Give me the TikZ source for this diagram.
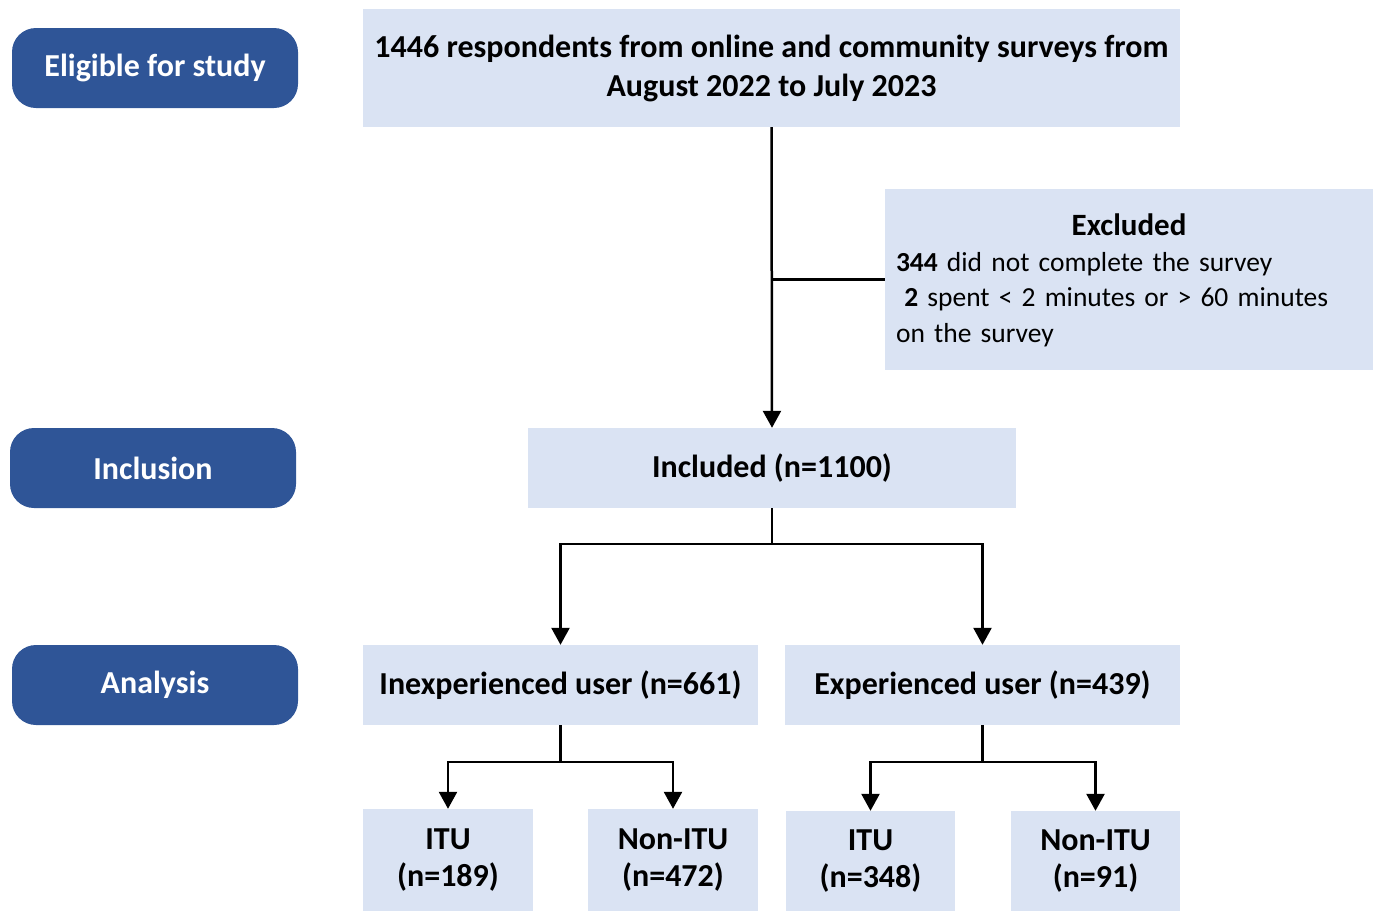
\documentclass[tikz,border=0pt]{standalone}
\usepackage{fontspec}
\setmainfont{Carlito}
\usetikzlibrary{arrows.meta,calc}
\definecolor{darkb}{HTML}{2F5597}
\definecolor{lightb}{HTML}{DAE3F3}
\tikzset{
  lbl/.style={fill=darkb, draw=none, rounded corners=24pt, text=white, font=\fontsize{32}{38}\selectfont\bfseries, minimum width=286pt, minimum height=80pt, inner sep=0pt},
  bx/.style={fill=lightb, draw=none, inner sep=0pt, font=\fontsize{32}{39}\selectfont\bfseries, align=center},
  small/.style={font=\fontsize{32}{37.5}\selectfont\bfseries},
  con/.style={line width=2.5pt, draw=black},
  arr/.style={con, -{Triangle[length=17pt,width=18pt]}},
}
\begin{document}
\begin{tikzpicture}[x=1pt,y=-1pt]
\useasboundingbox (0,0) rectangle (1378,911);
% left labels
\node[lbl] (elig) at (155,68) {Eligible for study};
\node[lbl] (inc) at (153,468) {Inclusion};
\node[lbl] (ana) at (155,685) {Analysis};
% boxes
\node[bx, minimum width=817pt, minimum height=118pt] (top) at (771.5,68) {1446 respondents from online and community surveys from\\August 2022 to July 2023};
\node[bx, minimum width=488pt, minimum height=181pt] (ex) at (1129,279.5) {};
\node[font=\fontsize{27.5}{35.6}\selectfont, text width=466pt, align=left, inner sep=0pt] (extxt) at ($(ex.center)+(0,1)$) {\makebox[\linewidth]{\fontsize{31}{35.6}\selectfont\bfseries Excluded}\\\textbf{344} did not complete the survey\\\hspace*{0.3em}\textbf{2} spent < 2 minutes or > 60 minutes\\on the survey};
\node[bx, minimum width=488pt, minimum height=80pt] (incl) at (772,468) {Included (n=1100)};
\node[bx, minimum width=395pt, minimum height=80pt] (inexp) at (560.5,685) {Inexperienced user (n=661)};
\node[bx, minimum width=395pt, minimum height=80pt] (exp) at (982.5,685) {Experienced user (n=439)};
\node[bx, small, minimum width=170pt, minimum height=102pt] (itu1) at (448,860) {ITU\\(n=189)};
\node[bx, small, minimum width=170pt, minimum height=102pt] (non1) at (673,860) {Non-ITU\\(n=472)};
\node[bx, small, minimum width=169pt, minimum height=100pt] (itu2) at (870.5,861) {ITU\\(n=348)};
\node[bx, small, minimum width=169pt, minimum height=100pt] (non2) at (1095.5,861) {Non-ITU\\(n=91)};
% connectors
\draw[arr] (top.south) -- (incl.north);
\draw[con] (ex.west) -- (ex.west -| top.south);
\coordinate (s1) at ($(incl.south)+(0,36)$);
\draw[con] (incl.south) -- (s1);
\draw[arr] (s1) -| (inexp.north);
\draw[arr] (s1) -| (exp.north);
\coordinate (s2) at ($(inexp.south)+(0,37)$);
\draw[con] (inexp.south) -- (s2);
\draw[arr] (s2) -| (itu1.north);
\draw[arr] (s2) -| (non1.north);
\coordinate (s3) at ($(exp.south)+(0,37)$);
\draw[con] (exp.south) -- (s3);
\draw[arr] (s3) -| (itu2.north);
\draw[arr] (s3) -| (non2.north);
\end{tikzpicture}
\end{document}
